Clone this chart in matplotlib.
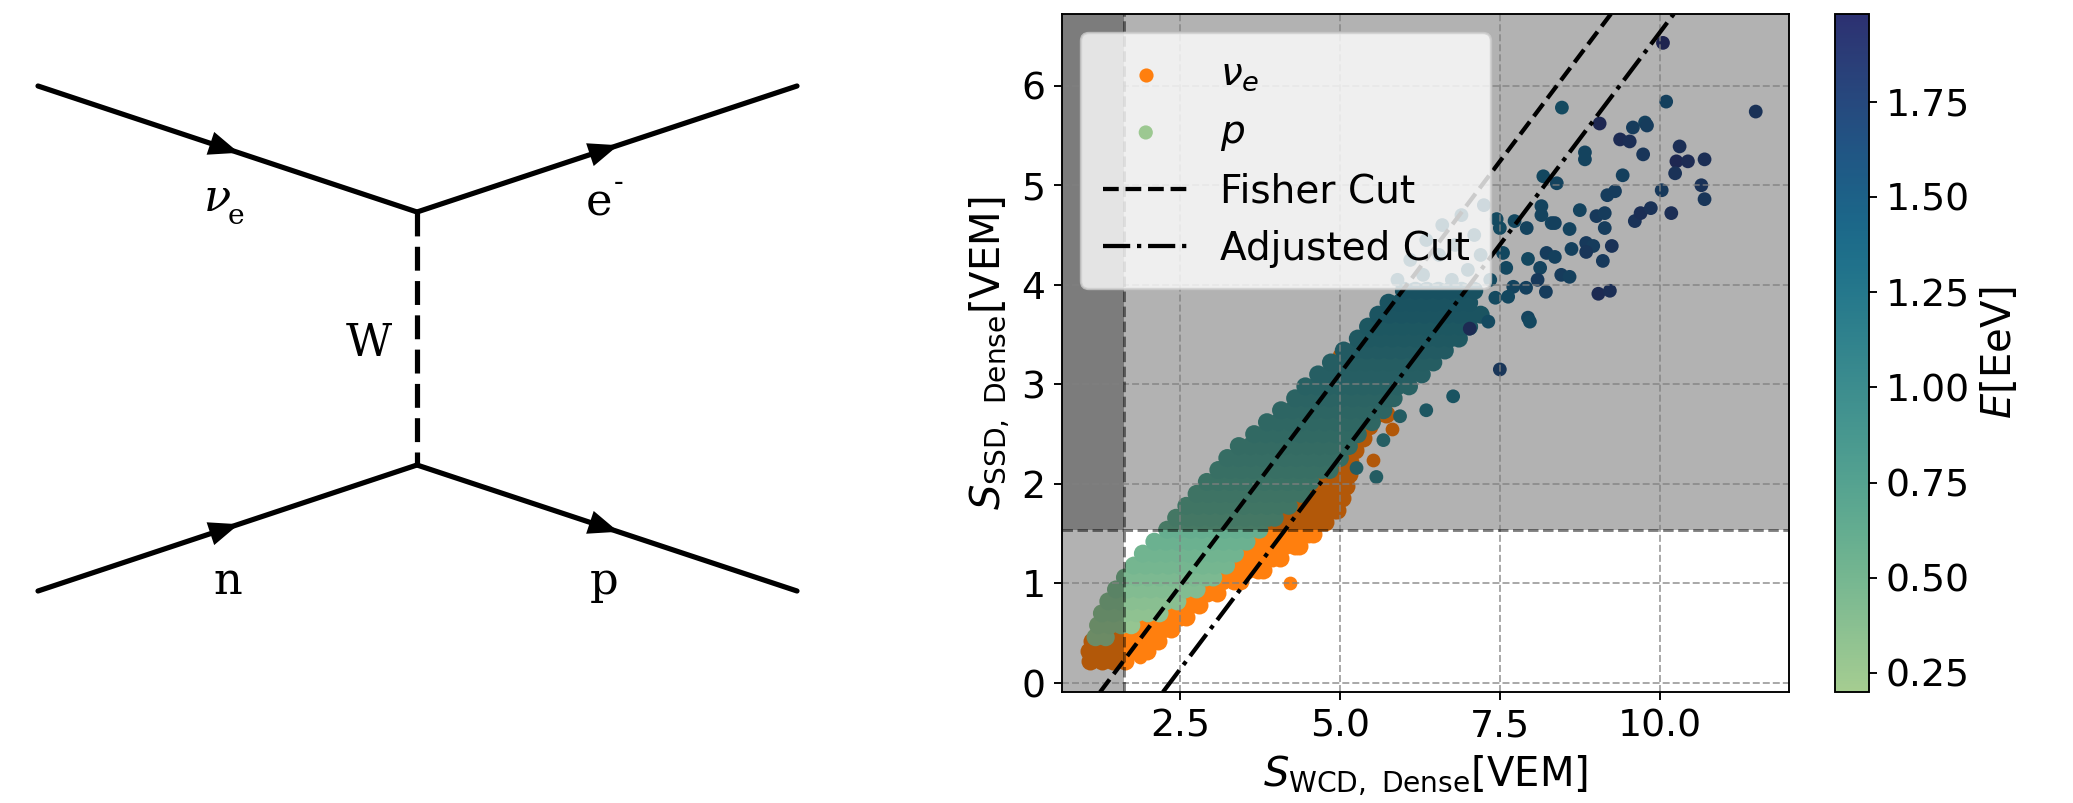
import numpy as np
import matplotlib
matplotlib.use('Agg')
import matplotlib.pyplot as plt
from matplotlib.patches import Polygon
from matplotlib.legend_handler import HandlerPathCollection
import seaborn as sns

# ---- scatter data: nu_e (orange), dense band written row by row ----
nue_rows_y = [0.22, 0.32, 0.42, 0.54, 0.66, 0.78, 0.90, 1.02, 1.14, 1.26, 1.38, 1.50, 1.62, 1.74,
              1.86, 1.98, 2.10, 2.22, 2.34, 2.46, 2.58, 2.70, 2.82, 2.94, 3.06, 3.18, 3.28]
nue_rows_x = [
    [1.10, 1.28, 1.46, 1.64],
    [1.08, 1.26, 1.44, 1.62, 1.80, 1.98],
    [1.12, 1.30, 1.48, 1.66, 1.84, 2.02, 2.16],
    [1.52, 1.70, 1.88, 2.06, 2.24, 2.36],
    [1.96, 2.14, 2.32, 2.50, 2.60],
    [2.12, 2.30, 2.48, 2.66, 2.80],
    [2.38, 2.56, 2.74, 2.92, 3.08],
    [2.80, 2.98, 3.16, 3.34, 3.44],
    [3.00, 3.18, 3.36, 3.54, 3.72, 3.80],
    [3.22, 3.40, 3.58, 3.76, 3.94, 4.06],
    [3.40, 3.58, 3.76, 3.94, 4.12, 4.30, 4.36],
    [3.60, 3.78, 3.96, 4.14, 4.32, 4.50, 4.58],
    [3.80, 3.98, 4.16, 4.34, 4.52, 4.70, 4.76],
    [4.00, 4.18, 4.36, 4.54, 4.72, 4.90, 4.96],
    [4.20, 4.38, 4.56, 4.74, 4.92, 5.04],
    [4.40, 4.58, 4.76, 4.94, 5.10],
    [4.60, 4.78, 4.96, 5.14],
    [4.80, 4.98, 5.16],
    [4.90, 5.08, 5.24],
    [5.00, 5.18, 5.36],
    [5.10, 5.28, 5.46],
    [5.20, 5.38, 5.56, 5.72],
    [5.30, 5.48, 5.66],
    [5.30, 5.48],
    [5.20, 5.34, 5.48],
    [5.10, 5.28],
    [5.02, 5.14],
]
nue_extra_x = [1.88, 4.22, 5.52, 5.81, 5.75]
nue_extra_y = [0.26, 1.00, 2.24, 2.55, 2.83]

# ---- scatter data: protons, dense band (one energy per row) ----
p_rows_y = [0.46, 0.58, 0.70, 0.82, 0.94, 1.06, 1.18, 1.30, 1.42, 1.54, 1.66, 1.78, 1.90, 2.02, 2.14,
            2.26, 2.38, 2.50, 2.62, 2.74, 2.86, 2.98, 3.10, 3.22, 3.34, 3.46, 3.58, 3.70, 3.82, 3.94]
p_rows_e = [0.26, 0.30, 0.34, 0.38, 0.42, 0.46, 0.50, 0.53, 0.57, 0.61, 0.64, 0.68, 0.71, 0.75, 0.78,
            0.81, 0.84, 0.88, 0.91, 0.95, 0.98, 1.02, 1.05, 1.08, 1.12, 1.16, 1.19, 1.23, 1.24, 1.28]
p_rows_x = [
    [1.18, 1.34],
    [1.22, 1.40, 1.58, 1.74],
    [1.28, 1.46, 1.64, 1.82, 2.00, 2.18],
    [1.38, 1.56, 1.74, 1.92, 2.10, 2.28, 2.46],
    [1.50, 1.68, 1.86, 2.04, 2.22, 2.40, 2.58, 2.76],
    [1.64, 1.82, 2.00, 2.18, 2.36, 2.54, 2.72, 2.90, 3.02],
    [1.78, 1.96, 2.14, 2.32, 2.50, 2.68, 2.86, 3.04, 3.22],
    [1.92, 2.10, 2.28, 2.46, 2.64, 2.82, 3.00, 3.18, 3.36],
    [2.10, 2.28, 2.46, 2.64, 2.82, 3.00, 3.18, 3.36, 3.54],
    [2.30, 2.48, 2.66, 2.84, 3.02, 3.20, 3.38, 3.56, 3.74],
    [2.44, 2.62, 2.80, 2.98, 3.16, 3.34, 3.52, 3.70, 3.88, 3.98],
    [2.60, 2.78, 2.96, 3.14, 3.32, 3.50, 3.68, 3.86, 4.04, 4.20],
    [2.76, 2.94, 3.12, 3.30, 3.48, 3.66, 3.84, 4.02, 4.20, 4.40],
    [2.92, 3.10, 3.28, 3.46, 3.64, 3.82, 4.00, 4.18, 4.36, 4.54],
    [3.10, 3.28, 3.46, 3.64, 3.82, 4.00, 4.18, 4.36, 4.54, 4.72, 4.84],
    [3.24, 3.42, 3.60, 3.78, 3.96, 4.14, 4.32, 4.50, 4.68, 4.86, 5.00],
    [3.42, 3.60, 3.78, 3.96, 4.14, 4.32, 4.50, 4.68, 4.86, 5.04, 5.14],
    [3.66, 3.84, 4.02, 4.20, 4.38, 4.56, 4.74, 4.92, 5.10, 5.28],
    [3.86, 4.04, 4.22, 4.40, 4.58, 4.76, 4.94, 5.12, 5.30, 5.50],
    [4.08, 4.26, 4.44, 4.62, 4.80, 4.98, 5.16, 5.34, 5.52, 5.68],
    [4.30, 4.48, 4.66, 4.84, 5.02, 5.20, 5.38, 5.56, 5.74, 5.84],
    [4.46, 4.64, 4.82, 5.00, 5.18, 5.36, 5.54, 5.72, 5.90, 6.08],
    [4.66, 4.84, 5.02, 5.20, 5.38, 5.56, 5.74, 5.92, 6.10, 6.28],
    [4.86, 5.04, 5.22, 5.40, 5.58, 5.76, 5.94, 6.12, 6.30, 6.46],
    [5.06, 5.24, 5.42, 5.60, 5.78, 5.96, 6.14, 6.32, 6.50, 6.64],
    [5.28, 5.46, 5.64, 5.82, 6.00, 6.18, 6.36, 6.54, 6.72, 6.86],
    [5.44, 5.62, 5.80, 5.98, 6.16, 6.34, 6.52, 6.70, 6.88, 7.02],
    [5.60, 5.78, 5.96, 6.14, 6.32, 6.50, 6.68, 6.86, 7.04, 7.20],
    [5.76, 5.94, 6.12, 6.30, 6.48, 6.66, 6.84, 7.02],
    [6.00, 6.18, 6.36, 6.54, 6.72, 6.90, 7.10],
]

# ---- protons, sparse high-signal points ----
p_sparse_x = [10.05, 10.10, 11.50, 8.47, 9.06, 9.58, 9.77, 9.80, 9.38, 9.53, 8.83, 8.83, 9.74, 10.31,
              10.26, 10.44, 10.70, 10.24, 9.42, 10.65, 10.70, 10.03, 10.18, 8.18, 8.39, 9.18, 9.30,
              8.75, 9.01, 9.14, 9.14, 9.61, 9.70, 9.86, 8.15, 8.15, 7.73, 7.92, 8.31, 8.36, 8.59,
              8.85, 8.96, 8.85, 9.25, 9.11, 8.62, 8.23, 8.36, 7.94, 8.13, 8.46, 8.59, 8.09, 8.22,
              9.04, 9.22, 7.71, 7.91, 7.63, 7.94, 7.97, 7.45, 7.50, 7.55, 7.60, 7.43, 7.32, 7.03,
              7.50, 6.35, 6.77, 5.26, 5.57, 5.94, 5.68,
              5.90, 6.10, 6.30, 6.35, 6.55, 6.60, 6.80, 6.90, 7.00, 7.10, 7.25, 6.75, 7.20, 7.35]
p_sparse_y = [6.43, 5.84, 5.74, 5.78, 5.62, 5.58, 5.63, 5.60, 5.46, 5.44, 5.33, 5.26, 5.31, 5.39,
              5.24, 5.24, 5.26, 5.12, 5.10, 5.00, 4.86, 4.95, 4.72, 5.09, 5.02, 4.90, 4.94,
              4.75, 4.69, 4.72, 4.57, 4.64, 4.72, 4.77, 4.79, 4.70, 4.64, 4.57, 4.62, 4.62, 4.56,
              4.42, 4.39, 4.33, 4.39, 4.24, 4.36, 4.32, 4.28, 4.26, 4.17, 4.10, 4.08, 4.05, 3.93,
              3.91, 3.94, 3.98, 3.97, 3.88, 3.67, 3.63, 4.66, 4.57, 4.32, 4.17, 3.87, 3.63, 3.56,
              3.15, 2.74, 2.88, 2.16, 2.07, 2.68, 2.44,
              4.05, 4.25, 4.10, 4.45, 4.30, 4.60, 4.40, 4.70, 4.15, 4.50, 4.80, 4.05, 4.30, 4.05]
p_sparse_e = [1.95, 1.55, 1.75, 1.40, 1.90, 1.60, 1.55, 1.60, 1.85, 1.80, 1.50, 1.50, 1.70, 1.80,
              1.90, 1.85, 1.80, 1.75, 1.55, 1.75, 1.70, 1.65, 1.80, 1.45, 1.50, 1.60, 1.60,
              1.50, 1.65, 1.60, 1.60, 1.75, 1.80, 1.75, 1.50, 1.50, 1.45, 1.50, 1.50, 1.55, 1.50,
              1.65, 1.60, 1.70, 1.75, 1.65, 1.55, 1.60, 1.55, 1.45, 1.50, 1.60, 1.55, 1.65, 1.60,
              1.85, 1.80, 1.50, 1.55, 1.45, 1.50, 1.45, 1.40, 1.40, 1.45, 1.45, 1.40, 1.40, 1.85,
              1.70, 1.20, 1.25, 1.10, 1.10, 1.10, 1.05,
              1.30, 1.30, 1.35, 1.35, 1.35, 1.40, 1.40, 1.40, 1.35, 1.40, 1.45, 1.35, 1.40, 1.40]

# cuts
fisher_slope, fisher_icpt = 0.853, -1.158
adjusted_slope, adjusted_icpt = 0.853, -1.996
wcd_cut, ssd_cut = 1.62, 1.54
e_ticks = [0.25, 0.50, 0.75, 1.00, 1.25, 1.50, 1.75]

# flatten the row tables
nue_dx = [x for row in nue_rows_x for x in row]
nue_dy = [y for y, row in zip(nue_rows_y, nue_rows_x) for _ in row]
p_dx = [x for row in p_rows_x for x in row]
p_dy = [y for y, row in zip(p_rows_y, p_rows_x) for _ in row]
p_de = [e for e, row in zip(p_rows_e, p_rows_x) for _ in row]

W, H, DPI = 2073, 803, 170
fig = plt.figure(figsize=(W / DPI, H / DPI), dpi=DPI)

# ---------------- Feynman diagram (left) ----------------
ax0 = fig.add_axes([0, 0, 870 / W, 1])
ax0.set_xlim(0, 870)
ax0.set_ylim(803, 0)
ax0.axis('off')

v_top, v_bot = (417, 212), (417, 465)
legs = [((38, 86), v_top), (v_top, (797, 86)), ((38, 591), v_bot), (v_bot, (797, 591))]
for a, b in legs:
    ax0.plot([a[0], b[0]], [a[1], b[1]], color='k', lw=2.2, solid_capstyle='round')
    a, b = np.array(a, float), np.array(b, float)
    u = (b - a) / np.linalg.norm(b - a)
    n = np.array([-u[1], u[0]])
    tip = a + 0.53 * (b - a)
    base = tip - 30 * u
    ax0.add_patch(Polygon([tip, base + 12 * n, base - 12 * n], closed=True, color='k', lw=0))
ax0.plot([v_top[0], v_bot[0]], [v_top[1], v_bot[1]], color='k', lw=2.2, dashes=(4.6, 2.0))

serif = 'DejaVu Serif'
ax0.text(217, 211, 'ν', fontsize=19, family=serif, style='italic', ha='center', va='baseline')
ax0.text(236, 224, 'e', fontsize=12, family=serif, ha='center', va='baseline')
ax0.text(599, 215, 'e', fontsize=19, family=serif, ha='center', va='baseline')
ax0.text(619, 190, '-', fontsize=12, family=serif, ha='center', va='baseline')
ax0.text(369, 356, 'W', fontsize=19, family=serif, ha='center', va='baseline')
ax0.text(228, 594, 'n', fontsize=19, family=serif, ha='center', va='baseline')
ax0.text(604, 594, 'p', fontsize=19, family=serif, ha='center', va='baseline')

# ---------------- scatter (right) ----------------
cmap = sns.color_palette('crest', as_cmap=True)
ax = fig.add_axes([1062 / W, 1 - 692 / H, (1789 - 1062) / W, (692 - 14) / H])
# the dense cores are many overlapping events, drawn a bit fatter so they read as solid
sc_nue = ax.scatter(nue_dx, nue_dy, s=58, color='tab:orange', linewidths=0, label=r'$\nu_e$')
ax.scatter(nue_extra_x, nue_extra_y, s=34, color='tab:orange', linewidths=0)
sc_p = ax.scatter(p_dx, p_dy, c=p_de, cmap=cmap, vmin=0.2, vmax=1.98, s=58, linewidths=0,
                  label=r'$p$')
ax.scatter(p_sparse_x, p_sparse_y, c=p_sparse_e, cmap=cmap, vmin=0.2, vmax=1.98, s=34, linewidths=0)
ax.set_xlim(0.656, 12.02)
ax.set_ylim(-0.09, 6.72)

ax.axvspan(-5, wcd_cut, color='k', alpha=0.3, lw=0)
ax.axhspan(ssd_cut, 10, color='k', alpha=0.3, lw=0)
ax.axvline(wcd_cut, color='k', ls='--', lw=1.2, alpha=0.5)
ax.axhline(ssd_cut, color='k', ls='--', lw=1.2, alpha=0.5)

ax.axline((0, fisher_icpt), slope=fisher_slope, color='k', ls='--', lw=1.8, label='Fisher Cut')
ax.axline((0, adjusted_icpt), slope=adjusted_slope, color='k', ls='-.', lw=1.8, label='Adjusted Cut')

ax.grid(True, ls='--', color='gray', alpha=0.7, lw=0.8)
ax.set_xticks([2.5, 5.0, 7.5, 10.0])
ax.set_yticks([0, 1, 2, 3, 4, 5, 6])
ax.tick_params(labelsize=16)
ax.set_xlabel(r'$S_{\mathrm{WCD,\ Dense}}$[VEM]', fontsize=17)
ax.set_ylabel(r'$S_{\mathrm{SSD,\ Dense}}$[VEM]', fontsize=17)
ax.legend(loc='upper left', fontsize=16.5, handlelength=2.2, handletextpad=0.8, borderpad=0.55,
          handler_map={sc_nue: HandlerPathCollection(sizes=[36]),
                       sc_p: HandlerPathCollection(sizes=[36])})

cax = fig.add_axes([1835 / W, 1 - 692 / H, 34 / W, (692 - 14) / H])
cb = fig.colorbar(sc_p, cax=cax, ticks=e_ticks)
cb.ax.tick_params(labelsize=16)
cb.set_label(r'$E$[EeV]', fontsize=17)

fig.savefig('out.png', dpi=DPI)
